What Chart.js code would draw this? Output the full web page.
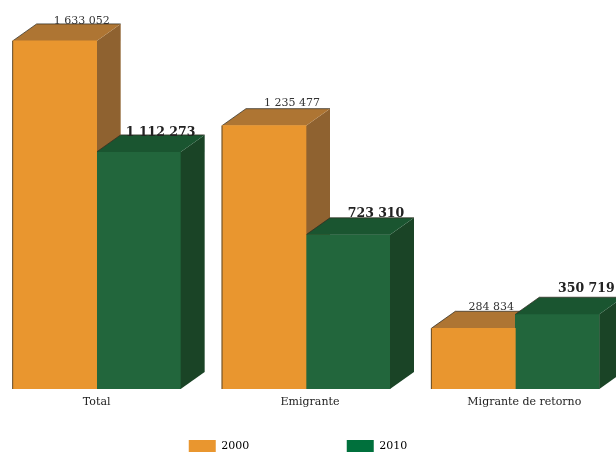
<!DOCTYPE html>
<html>
<head>
<meta charset="utf-8">
<style>
html,body{margin:0;padding:0;width:616px;height:452px;overflow:hidden;background:#fff}
canvas{position:absolute;left:-8px;top:0}
</style>
<script src="https://cdn.jsdelivr.net/npm/chart.js@4"></script>
</head>
<body>
<canvas id="c" width="628" height="452"></canvas>
<script>
const categories = ['Total', 'Emigrante', 'Migrante de retorno'];
const seriesNames = ['2000', '2010'];
const values2000 = [1633052, 1235477, 284834];
const values2010 = [1112273, 723310, 350719];
const valueLabels2000 = ['1 633 052', '1 235 477', '284 834'];
const valueLabels2010 = ['1 112 273', '723 310', '350 719'];
const labelShift2000 = [27, 28, 18];
const labelShift2010 = [22, 28, 29];
const labelDrop2000 = [5, 1.5, 3];
const labelDrop2010 = [5, 3, -1];
const tickShift = [0, 4, 9];
const depthX = 24, depthY = 17;
const serif = '"DejaVu Serif", serif';

const faces = [
  {front:'#E9962F', top:'#AE7533', side:'#8F6230', labels:valueLabels2000, shift:labelShift2000, drop:labelDrop2000,
   font:'11px '+serif, color:'#333', gap:2},
  {front:'#22663C', top:'#1A5530', side:'#1A4426', labels:valueLabels2010, shift:labelShift2010, drop:labelDrop2010,
   font:'bold 12.5px '+serif, color:'#222', gap:1}
];

function poly(ctx, pts, fill){
  ctx.beginPath();
  pts.forEach((p,i)=> i ? ctx.lineTo(p[0],p[1]) : ctx.moveTo(p[0],p[1]));
  ctx.closePath();
  ctx.fillStyle = fill;
  ctx.fill();
}

function drawFaces(chart, idx){
  const f = faces[idx], ctx = chart.ctx;
  ctx.save();
  chart.getDatasetMeta(idx).data.forEach(bar=>{
    const l = bar.x - bar.width/2, r = bar.x + bar.width/2, t = bar.y, b = bar.base;
    poly(ctx, [[r,t],[r+depthX,t-depthY],[r+depthX,b-depthY],[r,b]], f.side);
    poly(ctx, [[l,t],[l+depthX,t-depthY],[r+depthX,t-depthY],[r,t]], f.top);
    ctx.strokeStyle = 'rgba(50,45,35,.75)';
    ctx.lineWidth = 1;
    ctx.beginPath();
    ctx.moveTo(l,t);
    ctx.lineTo(l+depthX,t-depthY);
    ctx.lineTo(r+depthX,t-depthY);
    ctx.stroke();
  });
  ctx.restore();
}

const depthPlugin = {
  id:'depth',
  afterLayout(chart){
    const lg = chart.legend, pad = lg.options.labels.padding;
    lg.left -= 8; lg.right -= 8;
    lg.top = 440 - pad;
    const items = chart.scales.x.getLabelItems(chart.chartArea);
    items.forEach((it,i)=>{ it.options.translation[0] += tickShift[i]; });
  },
  beforeDatasetsDraw(chart){ drawFaces(chart, 0); },
  afterDatasetDraw(chart, args){ if(args.index === 1) drawFaces(chart, 1); },
  afterDatasetsDraw(chart){
    const ctx = chart.ctx;
    ctx.save();
    chart.getDatasetMeta(0).data.forEach(bar=>{
      const l = bar.x - bar.width/2;
      ctx.strokeStyle = 'rgba(50,45,35,.75)';
      ctx.beginPath(); ctx.moveTo(l,bar.base); ctx.lineTo(l,bar.y); ctx.stroke();
    });
    [0,1].forEach(idx=>{
      const f = faces[idx];
      chart.getDatasetMeta(idx).data.forEach((bar,i)=>{
        ctx.fillStyle = f.color;
        ctx.font = f.font;
        ctx.textAlign = 'center';
        ctx.textBaseline = 'bottom';
        ctx.fillText(f.labels[i], bar.x + f.shift[i], bar.y - depthY - f.gap + f.drop[i]);
      });
    });
    ctx.restore();
  }
};

new Chart(document.getElementById('c'), {
  type:'bar',
  data:{
    labels:categories,
    datasets:[
      {label:seriesNames[0], data:values2000, backgroundColor:faces[0].front, barThickness:84},
      {label:seriesNames[1], data:values2010, backgroundColor:faces[1].front, barThickness:84}
    ]
  },
  options:{
    responsive:false,
    animation:false,
    layout:{padding:0},
    scales:{
      x:{
        grid:{display:false, drawTicks:false},
        border:{display:false},
        ticks:{padding:7, color:'#222', autoSkip:false, maxRotation:0, font:{family:serif, size:11}},
        afterFit(s){ s.height = 49; }
      },
      y:{display:false, min:0, max:1825000}
    },
    plugins:{
      tooltip:{enabled:false},
      legend:{
        position:'bottom',
        maxHeight:14,
        labels:{
          boxWidth:27, boxHeight:12, padding:97.5, color:'#222',
          font:{family:serif, size:11},
          generateLabels(){
            return [
              {text:seriesNames[0], fillStyle:'#E9962F', strokeStyle:'#E9962F', lineWidth:0, datasetIndex:0},
              {text:seriesNames[1], fillStyle:'#00703C', strokeStyle:'#00703C', lineWidth:0, datasetIndex:1}
            ];
          }
        }
      }
    }
  },
  plugins:[depthPlugin]
});
</script>
</body>
</html>
